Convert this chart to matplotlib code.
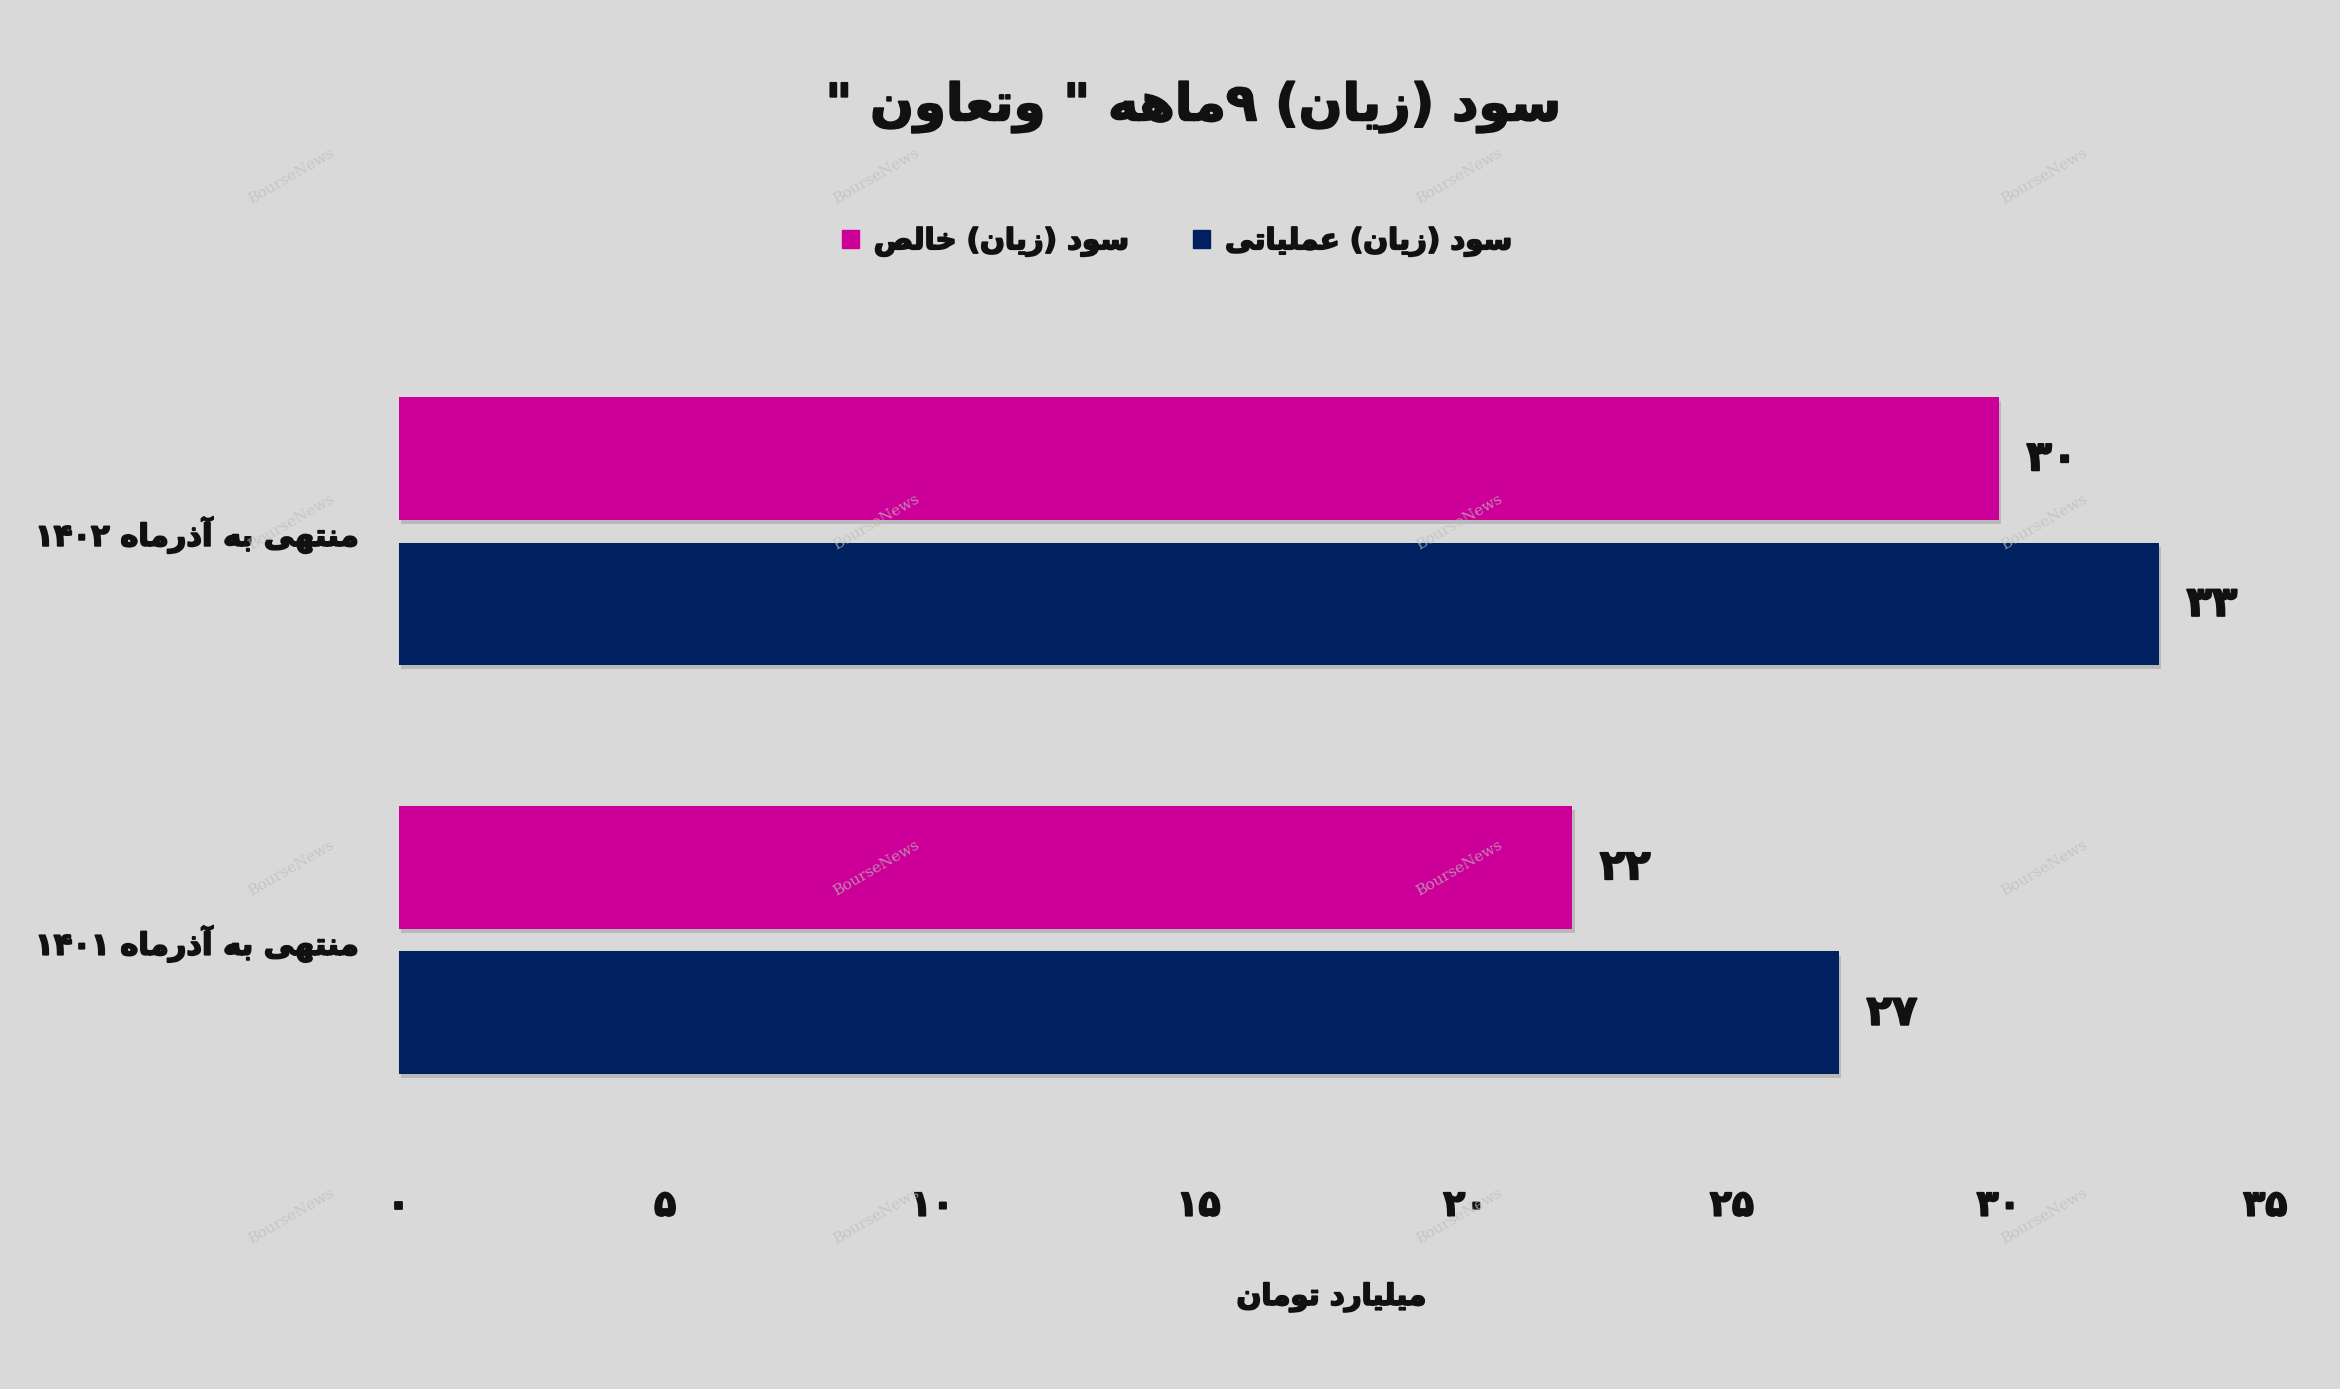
import re
import matplotlib
matplotlib.use("Agg")
import matplotlib.pyplot as plt
import matplotlib.patheffects as pe
from matplotlib.patches import Patch
import numpy as np

# data
categories = ["منتهی به آذرماه ۱۴۰۱", "منتهی به آذرماه ۱۴۰۲"]
operating = [27, 33]   # سود (زیان) عملیاتی
net = [22, 30]         # سود (زیان) خالص
x_ticks = [0, 5, 10, 15, 20, 25, 30, 35]

title = 'سود (زیان) ۹ماهه " وتعاون "'
series_names = ["سود (زیان) عملیاتی", "سود (زیان) خالص"]
x_title = "میلیارد تومان"

navy = "#002060"
magenta = "#CC0099"
bg = "#D9D9D9"

# simple persian shaping (matplotlib does not join arabic letters)
FORMS = {
    "\u0627": ("\uFE8D", "\uFE8E"),
    "\u0622": ("\uFE81", "\uFE82"),
    "\u062F": ("\uFEA9", "\uFEAA"),
    "\u0630": ("\uFEAB", "\uFEAC"),
    "\u0631": ("\uFEAD", "\uFEAE"),
    "\u0632": ("\uFEAF", "\uFEB0"),
    "\u0648": ("\uFEED", "\uFEEE"),
    "\u0628": ("\uFE8F", "\uFE90", "\uFE91", "\uFE92"),
    "\u062A": ("\uFE95", "\uFE96", "\uFE97", "\uFE98"),
    "\u062E": ("\uFEA5", "\uFEA6", "\uFEA7", "\uFEA8"),
    "\u0633": ("\uFEB1", "\uFEB2", "\uFEB3", "\uFEB4"),
    "\u0635": ("\uFEB9", "\uFEBA", "\uFEBB", "\uFEBC"),
    "\u0639": ("\uFEC9", "\uFECA", "\uFECB", "\uFECC"),
    "\u0644": ("\uFEDD", "\uFEDE", "\uFEDF", "\uFEE0"),
    "\u0645": ("\uFEE1", "\uFEE2", "\uFEE3", "\uFEE4"),
    "\u0646": ("\uFEE5", "\uFEE6", "\uFEE7", "\uFEE8"),
    "\u0647": ("\uFEE9", "\uFEEA", "\uFEEB", "\uFEEC"),
    "\u06CC": ("\uFEEF", "\uFEF0", "\uFEF3", "\uFEF4"),
}


def shape(text):
    out = []
    for i, ch in enumerate(text):
        if ch not in FORMS:
            out.append(ch)
            continue
        f = FORMS[ch]
        prev = text[i - 1] if i > 0 else ""
        nxt = text[i + 1] if i + 1 < len(text) else ""
        pj = prev in FORMS and len(FORMS[prev]) == 4
        nj = nxt in FORMS and len(f) == 4
        if pj and nj:
            out.append(f[3])
        elif pj:
            out.append(f[1])
        elif nj:
            out.append(f[2])
        else:
            out.append(f[0])
    return "".join(out)


def rtl(text):
    s = shape(text)[::-1]
    s = re.sub("[0-9\u06F0-\u06F9]+", lambda m: m.group(0)[::-1], s)
    return s.translate(str.maketrans("()", ")("))


def fa_num(n):
    return str(n).translate(str.maketrans("0123456789", "۰۱۲۳۴۵۶۷۸۹"))


plt.rcParams["font.family"] = ["DejaVu Sans"]
plt.rcParams["font.weight"] = "bold"

heavy = [pe.withStroke(linewidth=1.3, foreground="#111111")]

fig = plt.figure(figsize=(23.4, 13.89), dpi=100, facecolor=bg)
ax = fig.add_axes([0.1703, 0.1622, 0.7978, 0.5908])
ax.set_facecolor(bg)

y = np.arange(len(categories))
h = 0.30
off = 0.178
shadow = [pe.SimplePatchShadow(offset=(2, -3), shadow_rgbFace="#9a9a9a", alpha=0.5), pe.Normal()]

b_net = ax.barh(y + off, net, height=h, color=magenta, path_effects=shadow)
b_op = ax.barh(y - off, operating, height=h, color=navy, path_effects=shadow)

for bars, vals in [(b_net, net), (b_op, operating)]:
    for t in ax.bar_label(bars, labels=[fa_num(v) for v in vals], padding=20,
                          fontsize=30, fontweight="bold", color="#111111"):
        t.set_path_effects(heavy)

ax.set_xlim(0, 35)
ax.set_ylim(-0.547, 1.46)
ax.set_xticks(x_ticks)
ax.set_xticklabels([fa_num(t) for t in x_ticks], fontsize=26, fontweight="bold", color="#111111")
ax.set_yticks(y)
ax.set_yticklabels([rtl(c) for c in categories], fontsize=22, fontweight="bold", color="#111111")
for t in ax.get_xticklabels() + ax.get_yticklabels():
    t.set_path_effects(heavy)
ax.tick_params(axis="both", length=0)
ax.tick_params(axis="y", pad=29)
ax.tick_params(axis="x", pad=18)
for sp in ax.spines.values():
    sp.set_visible(False)

fig.text(0.51, 0.923, rtl(title), ha="center", va="center", fontsize=37,
         fontweight="bold", color="#111111", path_effects=heavy)
fig.text(0.569, 0.066, rtl(x_title), ha="center", va="center", fontsize=21,
         fontweight="bold", color="#111111", path_effects=heavy)

handles = [Patch(color=magenta), Patch(color=navy)]
leg = fig.legend(handles, [rtl(series_names[1]), rtl(series_names[0])], loc="center",
                 bbox_to_anchor=(0.503, 0.826), ncol=2, frameon=False,
                 handlelength=0.6, handleheight=0.6, handletextpad=0.5, columnspacing=2.2,
                 prop={"weight": "bold", "size": 21})
for t in leg.get_texts():
    t.set_color("#111111")
    t.set_path_effects(heavy)

# watermark
for wx in [195, 587, 978, 1370]:
    for wy in [118, 350, 582, 815]:
        fig.text(wx / 1568, 1 - wy / 931, "BourseNews", ha="center", va="center",
                 rotation=30, fontsize=11, family="DejaVu Serif", fontweight="normal",
                 color="#bdbdbd", alpha=0.7, zorder=10)

fig.savefig("out.png", dpi=100, facecolor=bg)
